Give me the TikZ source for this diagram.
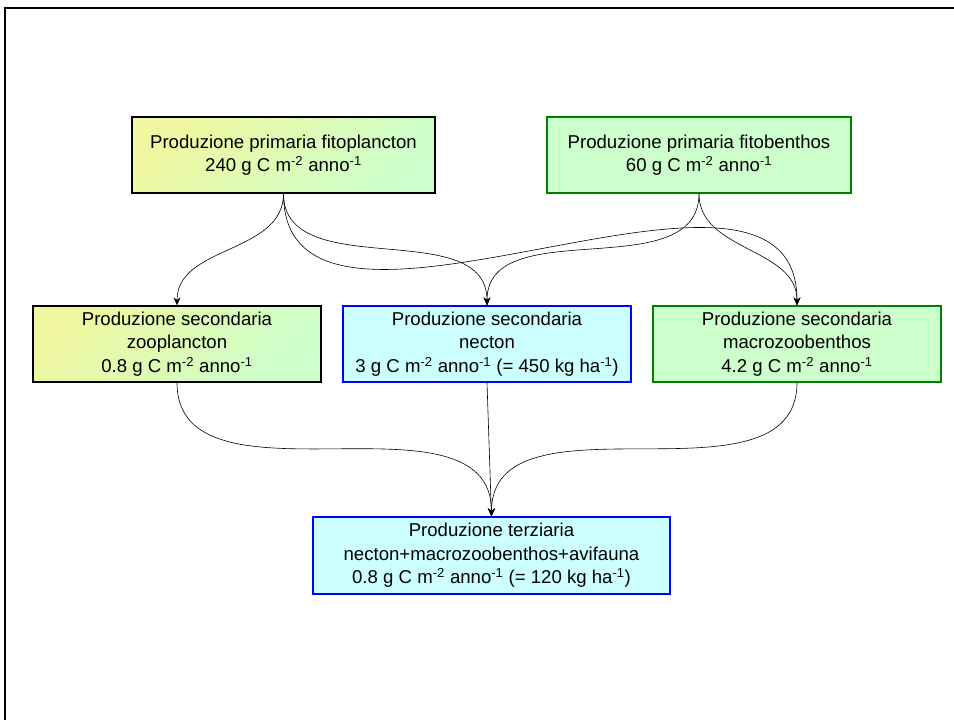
\documentclass[tikz,border=0pt]{standalone}
\usepackage{fontspec}
\setmainfont{Liberation Sans}
\usetikzlibrary{arrows.meta}
\usepackage{xcolor}

\definecolor{giallo}{HTML}{F0F7A0}
\definecolor{verde}{HTML}{CCFFCC}
\definecolor{celeste}{HTML}{CCFFFF}
\definecolor{bordoverde}{HTML}{008000}

\begin{document}
\begin{tikzpicture}[x=1pt,y=-1pt,
    box/.style={draw, line width=1.3pt, inner sep=0pt, align=center,
        minimum height=76pt, font=\fontsize{18.6}{23.5}\selectfont},
    plancton/.style={box, draw=black, top color=giallo, bottom color=verde, shading angle=45},
    benthos/.style={box, draw=bordoverde, fill=verde},
    necton/.style={box, draw=blue, fill=celeste},
    flusso/.style={-{Stealth[length=8pt,width=7pt]}, line width=0.6pt}]
    \useasboundingbox (0,0) rectangle (954,720);
    % cornice
    \draw[line width=1.6pt] (5,720) -- (5,8) -- (954,8);
    % produzione primaria
    \node[plancton, minimum width=303pt] (fito) at (283.5,155)
        {Produzione primaria fitoplancton\\240 g C m\textsuperscript{-2} anno\textsuperscript{-1}};
    \node[benthos, minimum width=304pt] (fitob) at (699,155)
        {Produzione primaria fitobenthos\\60 g C m\textsuperscript{-2} anno\textsuperscript{-1}};
    % produzione secondaria
    \node[plancton, minimum width=288pt] (zoo) at (177,344)
        {Produzione secondaria\\zooplancton\\0.8 g C m\textsuperscript{-2} anno\textsuperscript{-1}};
    \node[necton, minimum width=288pt] (nec) at (487,344)
        {Produzione secondaria\\necton\\3 g C m\textsuperscript{-2} anno\textsuperscript{-1} (= 450 kg ha\textsuperscript{-1})};
    \node[benthos, minimum width=288pt] (macro) at (797,344)
        {Produzione secondaria\\macrozoobenthos\\4.2 g C m\textsuperscript{-2} anno\textsuperscript{-1}};
    % produzione terziaria
    \node[necton, minimum width=357pt, minimum height=77pt] (terz) at (491.5,555.5)
        {Produzione terziaria\\necton+macrozoobenthos+avifauna\\0.8 g C m\textsuperscript{-2} anno\textsuperscript{-1} (= 120 kg ha\textsuperscript{-1})};
    % flussi
    \draw[flusso] (fito.south) to[out=-90,in=90] (zoo.north);
    \draw[flusso] (fito.south) to[out=-90,in=90] (nec.north);
    \draw[flusso] (fito.south) to[out=-90,in=90] (macro.north);
    \draw[flusso] (fitob.south) to[out=-90,in=90] (nec.north);
    \draw[flusso] (fitob.south) to[out=-90,in=90] (macro.north);
    \draw[flusso] (zoo.south) to[out=-90,in=90] (terz.north);
    \draw[flusso] (nec.south) -- (terz.north);
    \draw[flusso] (macro.south) to[out=-90,in=90] (terz.north);
\end{tikzpicture}
\end{document}
